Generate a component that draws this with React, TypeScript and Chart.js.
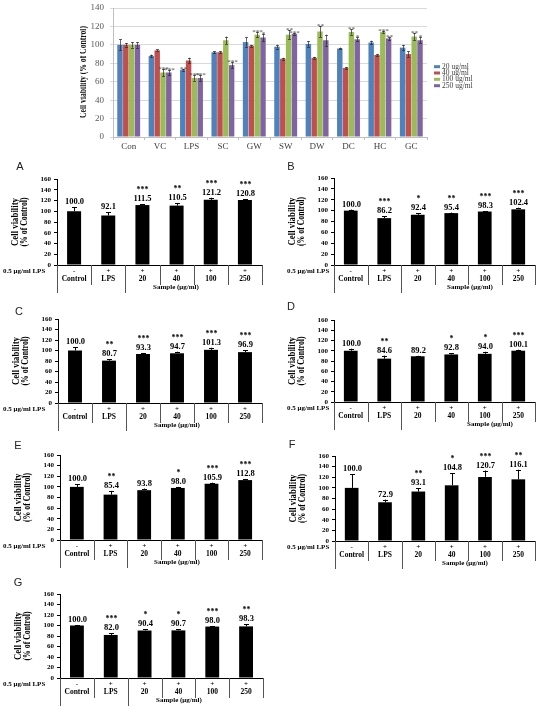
import React, { useEffect, useRef } from "react";
import { Chart, registerables } from "chart.js";

Chart.register(...registerables);

const SERIF = "'Liberation Serif', 'Times New Roman', serif";
const SANS = "'Liberation Sans', Arial, sans-serif";

// ---------- Top grouped chart data ----------
const topCategories = ["Con", "VC", "LPS", "SC", "GW", "SW", "DW", "DC", "HC", "GC"];
const topLegend = ["20 ug/ml", "40 ug/ml", "100 ug/ml", "250 ug/ml"];
const topColors = ["#4F81BD", "#C0504D", "#9BBB59", "#8064A2"];
const top20 = [100, 88, 73, 92, 103, 98, 101, 96, 102.5, 97];
const top40 = [100, 94, 83, 92, 99, 85, 86, 75, 89, 90];
const top100 = [100, 70, 64, 105, 111, 111, 114.5, 114, 114, 109];
const top250 = [100, 70, 64, 78, 108, 112, 105, 106, 107, 105];
const top20Err = [6, 1.5, 1, 1, 5, 2, 3, 1, 2, 3];
const top40Err = [2, 1, 3, 1, 1, 1, 1, 1, 1, 3];
const top100Err = [3, 4, 3, 4, 3, 5, 6, 3, 1, 4];
const top250Err = [3, 3, 3, 3, 4, 1, 6, 2, 2, 3];
const top20Stars = ["", "", "**", "", "", "", "", "", "", ""];
const top40Stars = ["", "", "", "", "", "", "", "", "", ""];
const top100Stars = ["", "***", "***", "", "***", "**", "**", "**", "***", "**"];
const top250Stars = ["", "***", "***", "***", "*", "***", "", "*", "**", "*"];
const topYMax = 140;
const topYStep = 20;
const topYTitle = "Cell viability (% of Control)";

// ---------- Small panels data ----------
const panelCategories = ["Control", "LPS", "20", "40", "100", "250"];
const lpsSigns = ["-", "+", "+", "+", "+", "+"];
const lpsRowLabel = "0.5 μg/ml LPS";
const sampleLabel = "Sample (μg/ml)";
const panelYTitle1 = "Cell viability";
const panelYTitle2 = "(% of Control)";
const panelYMax = 160;
const panelYStep = 20;

const aValues = [100.0, 92.1, 111.5, 110.5, 121.2, 120.8];
const aErrors = [8, 6, 2, 5, 4, 2];
const aStars = ["", "", "***", "**", "***", "***"];

const bValues = [100.0, 86.2, 92.4, 95.4, 98.3, 102.4];
const bErrors = [2, 3, 3, 1, 1, 3];
const bStars = ["", "***", "*", "**", "***", "***"];

const cValues = [100.0, 80.7, 93.3, 94.7, 101.3, 96.9];
const cErrors = [6, 3, 2, 3, 4, 4];
const cStars = ["", "**", "***", "***", "***", "***"];

const dValues = [100.0, 84.6, 89.2, 92.8, 94.0, 100.1];
const dErrors = [4, 6, 1, 2, 4, 2];
const dStars = ["", "**", "", "*", "*", "***"];

const eValues = [100.0, 85.4, 93.8, 98.0, 105.9, 112.8];
const eErrors = [5, 7, 3, 2, 2, 2];
const eStars = ["", "**", "", "*", "***", "***"];

const fValues = [100.0, 72.9, 93.1, 104.8, 120.7, 116.1];
const fErrors = [26, 5, 6, 23, 12, 18];
const fStars = ["", "", "**", "*", "***", "**"];

const gValues = [100.0, 82.0, 90.4, 90.7, 98.0, 98.3];
const gErrors = [1, 3, 2, 2, 1, 4];
const gStars = ["", "***", "*", "*", "***", "**"];

// ---------- layout (positions only) ----------
const panelLayouts = [
  { letter: "A", x: 0, y: 150, w: 275, plotLeft: 57, plotRight: 262, plotTop: 29, plotBottom: 115, letterX: 20, letterY: 17, sampleX: 176, rowLabelX: 3 },
  { letter: "B", x: 275, y: 150, w: 274, plotLeft: 59, plotRight: 260, plotTop: 28, plotBottom: 115, letterX: 16, letterY: 17, sampleX: 195, rowLabelX: 12 },
  { letter: "C", x: 0, y: 290, w: 275, plotLeft: 58, plotRight: 262, plotTop: 29, plotBottom: 113, letterX: 19, letterY: 22, sampleX: 177, rowLabelX: 3 },
  { letter: "D", x: 275, y: 290, w: 274, plotLeft: 59, plotRight: 260, plotTop: 30, plotBottom: 112, letterX: 16, letterY: 17, sampleX: 215, rowLabelX: 12 },
  { letter: "E", x: 0, y: 430, w: 275, plotLeft: 60, plotRight: 262, plotTop: 25, plotBottom: 110, letterX: 18, letterY: 16, sampleX: 177, rowLabelX: 3 },
  { letter: "F", x: 275, y: 430, w: 274, plotLeft: 60, plotRight: 260, plotTop: 26, plotBottom: 111, letterX: 17, letterY: 15, sampleX: 190, rowLabelX: 12 },
  { letter: "G", x: 0, y: 570, w: 275, plotLeft: 60, plotRight: 263, plotTop: 24, plotBottom: 108, letterX: 18, letterY: 13, sampleX: 179, rowLabelX: 3 },
];
const panelData = [
  [aValues, aErrors, aStars],
  [bValues, bErrors, bStars],
  [cValues, cErrors, cStars],
  [dValues, dErrors, dStars],
  [eValues, eErrors, eStars],
  [fValues, fErrors, fStars],
  [gValues, gErrors, gStars],
];
const PANEL_H = 150;

function drawRotatedFit(ctx: any, text: string, cx: number, cy: number, font: string, len: number) {
  ctx.save();
  ctx.font = font;
  ctx.translate(cx, cy);
  ctx.rotate(-Math.PI / 2);
  const w = ctx.measureText(text).width;
  const s = Math.min(1.2, len / w);
  ctx.scale(s, 1);
  ctx.textAlign = "center";
  ctx.textBaseline = "middle";
  ctx.fillText(text, 0, 0);
  ctx.restore();
}

function buildTop(canvas: HTMLCanvasElement) {
  const W = canvas.width;
  const H = canvas.height;
  const plotLeft = 33;
  const plotRight = 347;
  const plotTop = 8;
  const plotBottom = 137;
  const series = [top20, top40, top100, top250];
  const errs = [top20Err, top40Err, top100Err, top250Err];
  const stars = [top20Stars, top40Stars, top100Stars, top250Stars];
  return new Chart(canvas, {
    type: "bar",
    data: {
      labels: topCategories,
      datasets: series.map((vals, k) => ({
        label: topLegend[k],
        data: vals,
        backgroundColor: topColors[k],
        borderWidth: 0,
        barPercentage: 0.94,
        categoryPercentage: 0.74,
      })),
    },
    options: {
      responsive: false,
      animation: false,
      layout: { padding: { left: 0, right: W - plotRight, top: plotTop, bottom: 0 } },
      plugins: { legend: { display: false }, tooltip: { enabled: false } },
      scales: {
        x: {
          ticks: { font: { family: SERIF, size: 9 }, color: "#404040", padding: 1, autoSkip: false },
          grid: { offset: true, drawOnChartArea: false, drawTicks: true, tickLength: 3, color: "#bfbfbf" },
          border: { color: "#bfbfbf" },
          afterFit: (s: any) => {
            s.height = H - plotBottom;
            s.paddingLeft = 0;
            s.paddingRight = 0;
          },
        },
        y: {
          min: 0,
          max: topYMax,
          ticks: { stepSize: topYStep, autoSkip: false, font: { family: SERIF, size: 9 }, color: "#595959", padding: 6 },
          grid: { color: "#d9d9d9", drawTicks: true, tickLength: 3 },
          border: { color: "#bfbfbf" },
          afterFit: (s: any) => {
            s.width = plotLeft;
            s.paddingTop = 0;
            s.paddingBottom = 0;
          },
        },
      },
    },
    plugins: [
      {
        id: "topDecor",
        afterDatasetsDraw(chart: any) {
          const ctx = chart.ctx;
          const ys = chart.scales.y;
          ctx.save();
          ctx.lineWidth = 1;
          series.forEach((vals, k) => {
            const meta = chart.getDatasetMeta(k);
            vals.forEach((v, i) => {
              const x = Math.round(meta.data[i].x) + 0.5;
              const yb = ys.getPixelForValue(v - errs[k][i]);
              const yt = ys.getPixelForValue(v + errs[k][i]);
              ctx.strokeStyle = "rgba(40,40,40,0.7)";
              ctx.beginPath();
              ctx.moveTo(x, yb);
              ctx.lineTo(x, yt);
              ctx.moveTo(x - 1.5, Math.round(yt) + 0.5);
              ctx.lineTo(x + 1.5, Math.round(yt) + 0.5);
              ctx.moveTo(x - 1.5, Math.round(yb) + 0.5);
              ctx.lineTo(x + 1.5, Math.round(yb) + 0.5);
              ctx.stroke();
              if (stars[k][i]) {
                ctx.fillStyle = "#404040";
                ctx.font = `7px ${SERIF}`;
                ctx.textAlign = "center";
                ctx.textBaseline = "alphabetic";
                ctx.fillText(stars[k][i], x, yt + 2);
              }
            });
          });
          // legend
          const rows = [66.7, 73, 79.3, 85.7];
          topLegend.forEach((t, k) => {
            ctx.fillStyle = topColors[k];
            ctx.fillRect(354, rows[k] - 1.5, 6, 3);
            ctx.fillStyle = "#404040";
            ctx.font = `7.5px ${SERIF}`;
            ctx.textAlign = "left";
            ctx.textBaseline = "middle";
            ctx.fillText(t, 362, rows[k]);
          });
          // y title
          ctx.fillStyle = "#111";
          drawRotatedFit(ctx, topYTitle, 3.5, 72, `bold 9.5px ${SERIF}`, 92);
          ctx.restore();
        },
      },
    ],
  } as any);
}

function buildPanel(canvas: HTMLCanvasElement, layout: any, values: number[], errors: number[], stars: string[]) {
  const W = canvas.width;
  const H = canvas.height;
  return new Chart(canvas, {
    type: "bar",
    data: {
      labels: panelCategories,
      datasets: [
        {
          data: values,
          backgroundColor: "#000",
          borderWidth: 0,
          barPercentage: 0.41,
          categoryPercentage: 1,
        },
      ],
    },
    options: {
      responsive: false,
      animation: false,
      layout: { padding: { left: 0, right: W - layout.plotRight, top: layout.plotTop, bottom: 0 } },
      plugins: { legend: { display: false }, tooltip: { enabled: false } },
      scales: {
        x: {
          ticks: { display: false },
          grid: { display: false },
          border: { display: false },
          afterFit: (s: any) => {
            s.height = H - layout.plotBottom;
            s.paddingLeft = 0;
            s.paddingRight = 0;
          },
        },
        y: {
          min: 0,
          max: panelYMax,
          ticks: { stepSize: panelYStep, autoSkip: false, font: { family: SERIF, size: 7, weight: "bold" }, color: "#000", padding: 3 },
          grid: { drawOnChartArea: false, drawTicks: true, tickLength: 3, color: "#000", lineWidth: 1 },
          border: { display: true, color: "#000", width: 1 },
          afterFit: (s: any) => {
            s.width = layout.plotLeft;
            s.paddingTop = 0;
            s.paddingBottom = 0;
          },
        },
      },
    },
    plugins: [
      {
        id: "panelDecor",
        afterDatasetsDraw(chart: any) {
          const ctx = chart.ctx;
          const ys = chart.scales.y;
          const xs = chart.scales.x;
          const area = chart.chartArea;
          const meta = chart.getDatasetMeta(0);
          const bottom = Math.round(area.bottom);
          ctx.save();
          ctx.strokeStyle = "#000";
          ctx.fillStyle = "#000";
          ctx.lineWidth = 1;
          values.forEach((v, i) => {
            const x = Math.round(meta.data[i].x) + 0.5;
            const yv = ys.getPixelForValue(v);
            const yt = ys.getPixelForValue(v + errors[i]);
            ctx.beginPath();
            ctx.moveTo(x, yv);
            ctx.lineTo(x, yt);
            ctx.moveTo(x - 2.5, Math.round(yt) + 0.5);
            ctx.lineTo(x + 2.5, Math.round(yt) + 0.5);
            ctx.stroke();
            ctx.textAlign = "center";
            ctx.textBaseline = "alphabetic";
            ctx.font = `bold 8.5px ${SERIF}`;
            ctx.fillText(v.toFixed(1), x, yt - 3);
            if (stars[i]) {
              ctx.font = `bold 8px ${SERIF}`;
              ctx.fillText(stars[i], x, yt - 12);
            }
          });
          // category table
          const n = values.length;
          const half = (xs.getPixelForValue(1) - xs.getPixelForValue(0)) / 2;
          ctx.beginPath();
          ctx.moveTo(area.left, bottom + 0.5);
          ctx.lineTo(area.right, bottom + 0.5);
          ctx.stroke();
          ctx.strokeStyle = "#555";
          ctx.beginPath();
          for (let i = 0; i <= n; i++) {
            const bx = i < n ? xs.getPixelForValue(i) - half : xs.getPixelForValue(n - 1) + half;
            const long = i === 0 || i === 2;
            const px = Math.round(bx) + 0.5;
            ctx.moveTo(px, bottom);
            ctx.lineTo(px, bottom + (long ? 28 : 20));
          }
          ctx.stroke();
          ctx.fillStyle = "#000";
          ctx.textAlign = "center";
          ctx.textBaseline = "middle";
          for (let i = 0; i < n; i++) {
            const x = xs.getPixelForValue(i);
            ctx.font = `bold 7px ${SERIF}`;
            ctx.fillText(lpsSigns[i], x, bottom + 6);
            ctx.font = `bold 7.5px ${SERIF}`;
            ctx.fillText(panelCategories[i], x, bottom + 14);
          }
          ctx.font = `bold 7px ${SERIF}`;
          ctx.fillText(sampleLabel, layout.sampleX, bottom + 22);
          ctx.textAlign = "left";
          ctx.fillText(lpsRowLabel, layout.rowLabelX, bottom + 6);
          // panel letter
          ctx.font = `11px ${SANS}`;
          ctx.fillStyle = "#222";
          ctx.textAlign = "center";
          ctx.fillText(layout.letter, layout.letterX, layout.letterY);
          // y title
          ctx.fillStyle = "#000";
          const cy = (area.top + area.bottom) / 2;
          drawRotatedFit(ctx, panelYTitle1, layout.plotLeft - 42, cy, `bold 11px ${SERIF}`, 48);
          drawRotatedFit(ctx, panelYTitle2, layout.plotLeft - 32.5, cy, `bold 11px ${SERIF}`, 49);
          ctx.restore();
        },
      },
    ],
  } as any);
}

function ChartCanvas(props: { left: number; top: number; width: number; height: number; build: (c: HTMLCanvasElement) => Chart }) {
  const ref = useRef<HTMLCanvasElement>(null);
  useEffect(() => {
    const chart = props.build(ref.current as HTMLCanvasElement);
    return () => chart.destroy();
  }, []);
  return (
    <canvas
      ref={ref}
      width={props.width}
      height={props.height}
      style={{ position: "absolute", left: props.left, top: props.top, width: props.width, height: props.height }}
    />
  );
}

export default function App() {
  return (
    <div style={{ position: "absolute", left: 0, top: 0, width: 549, height: 712, background: "#fff", overflow: "hidden" }}>
      <ChartCanvas left={80} top={0} width={469} height={152} build={buildTop} />
      {panelLayouts.map((lay, k) => (
        <ChartCanvas
          key={lay.letter}
          left={lay.x}
          top={lay.y}
          width={lay.w}
          height={PANEL_H}
          build={(c) => buildPanel(c, lay, panelData[k][0] as number[], panelData[k][1] as number[], panelData[k][2] as string[])}
        />
      ))}
    </div>
  );
}
